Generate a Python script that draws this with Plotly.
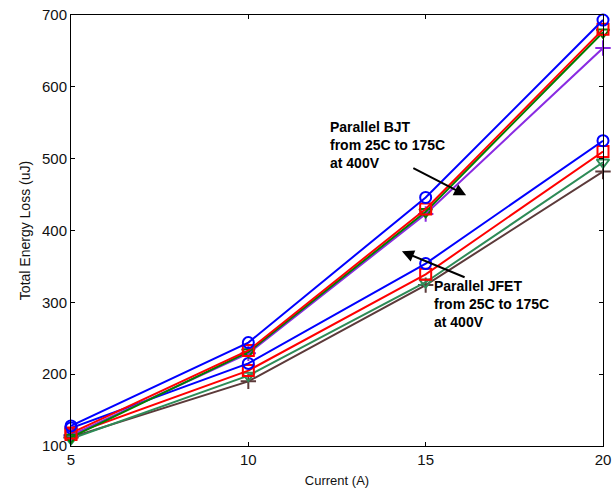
import plotly.graph_objects as go

current = [5, 10, 15, 20]

bjt_blue = [128, 244, 446, 693]
bjt_red = [118, 233, 430, 680]
bjt_green = [112, 231, 426, 676]
bjt_purple = [115, 229, 423, 654]

jfet_blue = [125, 215, 354, 525]
jfet_red = [116, 205, 339, 510]
jfet_green = [110, 198, 328, 495]
jfet_brown = [112, 190, 324, 482]

series = [
    (bjt_blue, "#0000FF", "circle-open"),
    (bjt_red, "#FF0000", "square-open"),
    (bjt_green, "#008000", "triangle-down-open"),
    (bjt_purple, "#8A2BE2", "cross-thin-open"),
    (jfet_blue, "#0000FF", "circle-open"),
    (jfet_red, "#FF0000", "square-open"),
    (jfet_green, "#2E8B57", "triangle-down-open"),
    (jfet_brown, "#5C3A3A", "cross-thin-open"),
]

fig = go.Figure()
for vals, col, sym in reversed(series):
    fig.add_trace(go.Scatter(
        x=current, y=vals, mode="lines+markers",
        line=dict(color=col, width=2),
        marker=dict(symbol=sym, size=11, color=col, line=dict(color=col, width=2)),
        showlegend=False, cliponaxis=False,
    ))

txt_font = dict(family="Liberation Sans, Arial", size=14, color="black")
fig.add_annotation(x=12.25, y=519, xref="x", yref="y", xanchor="left", yanchor="middle",
                   align="left", showarrow=False, font=txt_font,
                   text="<b>Parallel BJT<br>from 25C to 175C<br>at 400V</b>")
fig.add_annotation(x=15.18, y=297, xref="x", yref="y", xanchor="left", yanchor="middle",
                   align="left", showarrow=False, font=txt_font,
                   text="<b>Parallel JFET<br>from 25C to 175C<br>at 400V</b>")
fig.add_annotation(x=16.14, y=449, ax=14.61, ay=488, xref="x", yref="y", axref="x", ayref="y",
                   text="", showarrow=True, arrowhead=2, arrowsize=1.2, arrowwidth=2, arrowcolor="black")
fig.add_annotation(x=14.33, y=371, ax=16.14, ay=334, xref="x", yref="y", axref="x", ayref="y",
                   text="", showarrow=True, arrowhead=2, arrowsize=1.2, arrowwidth=2, arrowcolor="black")

axis_common = dict(showline=True, linecolor="black", linewidth=1, mirror="ticks",
                   ticks="inside", ticklen=4, tickcolor="black", showgrid=False, zeroline=False,
                   automargin=False,
                   tickfont=dict(family="Liberation Sans, Arial", size=15, color="#111"))
fig.update_xaxes(range=[5, 20], tickvals=[5, 10, 15, 20],
                 title=dict(text="Current (A)", font=dict(family="Liberation Sans, Arial", size=13, color="#111"), standoff=8),
                 **axis_common)
fig.update_yaxes(range=[100, 700], tickvals=[100, 200, 300, 400, 500, 600, 700],
                 title=dict(text="Total Energy Loss (uJ)", font=dict(family="Liberation Sans, Arial", size=14, color="#111"), standoff=8),
                 **axis_common)

fig.update_layout(width=616, height=491, margin=dict(l=71, r=13, t=15, b=45),
                  plot_bgcolor="white", paper_bgcolor="white")
fig.write_html("out.html")
